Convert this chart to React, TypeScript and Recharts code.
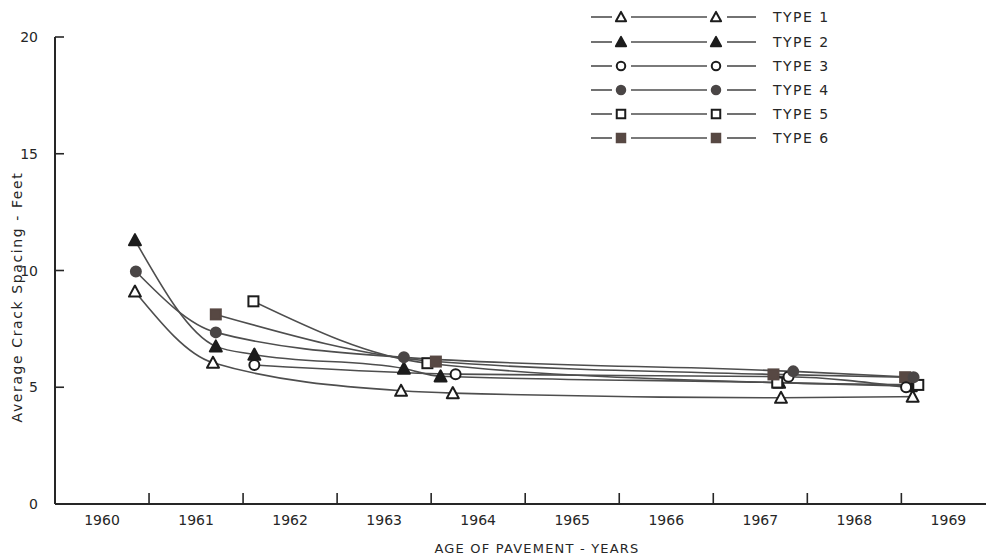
import React from 'react';
import { LineChart, Line, XAxis, YAxis, Label } from 'recharts';

// ---- data (x = calendar year, y = average crack spacing in feet)
const type1Years = [1960.85, 1961.68, 1963.68, 1964.23, 1967.72, 1969.12];
const type1Values = [9.1, 6.05, 4.85, 4.75, 4.55, 4.6];

const type2Years = [1960.85, 1961.71, 1962.12, 1963.71, 1964.1, 1967.7, 1969.1];
const type2Values = [11.3, 6.75, 6.4, 5.8, 5.47, 5.2, 5.05];

const type3Years = [1962.12, 1964.26, 1967.8, 1969.05];
const type3Values = [5.95, 5.56, 5.45, 5.0];

const type4Years = [1960.86, 1961.71, 1963.71, 1967.85, 1969.13];
const type4Values = [9.96, 7.35, 6.28, 5.68, 5.43];

const type5Years = [1962.11, 1963.96, 1967.68, 1969.18];
const type5Values = [8.68, 6.03, 5.2, 5.1];

const type6Years = [1961.71, 1964.05, 1967.64, 1969.04];
const type6Values = [8.12, 6.1, 5.55, 5.43];

const seriesNames = ['TYPE 1', 'TYPE 2', 'TYPE 3', 'TYPE 4', 'TYPE 5', 'TYPE 6'];
const yTicks = [0, 5, 10, 15, 20];
const yearLabels = [1960, 1961, 1962, 1963, 1964, 1965, 1966, 1967, 1968, 1969];
const yearBoundaries = [1961, 1962, 1963, 1964, 1965, 1966, 1967, 1968, 1969];
const yTitle = 'Average Crack Spacing - Feet';
const xTitle = 'AGE OF PAVEMENT - YEARS';

type Shape = 'triangle' | 'circle' | 'square';

const toRows = (xs: number[], ys: number[]) => xs.map((x, i) => ({ x, y: ys[i] }));

const series = [
  { name: seriesNames[0], data: toRows(type1Years, type1Values), shape: 'triangle' as Shape, fill: '#ffffff' },
  { name: seriesNames[1], data: toRows(type2Years, type2Values), shape: 'triangle' as Shape, fill: '#1c1c1c' },
  { name: seriesNames[2], data: toRows(type3Years, type3Values), shape: 'circle' as Shape, fill: '#ffffff' },
  { name: seriesNames[3], data: toRows(type4Years, type4Values), shape: 'circle' as Shape, fill: '#4a4646' },
  { name: seriesNames[4], data: toRows(type5Years, type5Values), shape: 'square' as Shape, fill: '#ffffff' },
  { name: seriesNames[5], data: toRows(type6Years, type6Values), shape: 'square' as Shape, fill: '#574843' },
];

const drawOrder = [1, 4, 5, 2, 3, 0];

const FONT = '"DejaVu Sans", sans-serif';
const INK = '#262626';
const LINE = '#4e4e4e';

function Marker({ cx, cy, shape, fill, size = 1 }: { cx: number; cy: number; shape: Shape; fill: string; size?: number }) {
  const stroke = fill === '#ffffff' ? '#1c1c1c' : fill;
  if (shape === 'triangle') {
    const h = 6 * size;
    return (
      <polygon
        points={`${cx},${cy - h} ${cx - h},${cy + h * 0.85} ${cx + h},${cy + h * 0.85}`}
        fill={fill}
        stroke={stroke}
        strokeWidth={2}
        strokeLinejoin="round"
      />
    );
  }
  if (shape === 'circle') {
    return <circle cx={cx} cy={cy} r={5 * size} fill={fill} stroke={stroke} strokeWidth={2} />;
  }
  const s = 5 * size;
  return <rect x={cx - s} y={cy - s} width={2 * s} height={2 * s} fill={fill} stroke={stroke} strokeWidth={2} />;
}

const XTick = (props: any) => {
  const { x, y, payload } = props;
  const v = payload.value as number;
  if (Number.isInteger(v)) {
    return <line x1={x} x2={x} y1={y} y2={y - 11} stroke={INK} strokeWidth={1.6} />;
  }
  return (
    <text x={x} y={y + 21} textAnchor="middle" fontFamily={FONT} fontSize={14} fill={INK}>
      {Math.floor(v)}
    </text>
  );
};

const YTick = (props: any) => {
  const { x, y, payload } = props;
  return (
    <g>
      {payload.value !== 0 && <line x1={x} x2={x + 9} y1={y} y2={y} stroke={INK} strokeWidth={1.6} />}
      <text x={x - 17} y={y + 5} textAnchor="end" fontFamily={FONT} fontSize={14} fill={INK}>
        {payload.value}
      </text>
    </g>
  );
};

const legendRows = [17, 42, 66, 90, 114, 138];

function LegendOverlay() {
  return (
    <svg width={1000} height={160} style={{ position: 'absolute', left: 0, top: 0, pointerEvents: 'none' }}>
      {series.map((s, i) => {
        const y = legendRows[i];
        return (
          <g key={s.name}>
            <line x1={591} x2={612} y1={y} y2={y} stroke={LINE} strokeWidth={1.6} />
            <Marker cx={621} cy={y} shape={s.shape} fill={s.fill} size={0.85} />
            <line x1={631} x2={707} y1={y} y2={y} stroke={LINE} strokeWidth={1.6} />
            <Marker cx={716} cy={y} shape={s.shape} fill={s.fill} size={0.85} />
            <line x1={727} x2={756} y1={y} y2={y} stroke={LINE} strokeWidth={1.6} />
            <text x={773} y={y + 5} fontFamily={FONT} fontSize={14} letterSpacing={1.5} fill={INK}>
              {s.name}
            </text>
          </g>
        );
      })}
    </svg>
  );
}

export default function App() {
  const xTickValues = [...yearLabels.map((y) => y + 0.5), ...yearBoundaries].sort((a, b) => a - b);
  return (
    <div style={{ position: 'absolute', left: 0, top: 0, width: 1000, height: 558, background: '#ffffff' }}>
      <LineChart width={1000} height={558} margin={{ top: 37, right: 14, left: 0, bottom: 0 }}>
        <XAxis
          dataKey="x"
          type="number"
          domain={[1960, 1969.9]}
          allowDataOverflow
          ticks={xTickValues}
          interval={0}
          height={54}
          tickSize={0}
          tickMargin={0}
          tickLine={false}
          tick={<XTick />}
          axisLine={{ stroke: INK, strokeWidth: 2 }}
        >
          <Label
            content={() => (
              <text x={537} y={553} textAnchor="middle" fontFamily={FONT} fontSize={13} letterSpacing={1.2} fill={INK}>
                {xTitle}
              </text>
            )}
          />
        </XAxis>
        <YAxis
          type="number"
          domain={[0, 20]}
          ticks={yTicks}
          interval={0}
          width={55}
          tickSize={0}
          tickMargin={0}
          tickLine={false}
          tick={<YTick />}
          axisLine={{ stroke: INK, strokeWidth: 2 }}
        >
          <Label
            content={() => (
              <text
                x={22}
                y={297}
                transform="rotate(-90 22 297)"
                textAnchor="middle"
                fontFamily={FONT}
                fontSize={14}
                letterSpacing={1.6}
                fill={INK}
              >
                {yTitle}
              </text>
            )}
          />
        </YAxis>
        {drawOrder.map((idx) => {
          const s = series[idx];
          return (
            <Line
              key={s.name}
              name={s.name}
              data={s.data}
              dataKey="y"
              type="monotone"
              stroke={LINE}
              strokeWidth={1.6}
              isAnimationActive={false}
              activeDot={false}
              dot={(p: any) => (
                <Marker key={`${s.name}-${p.index}`} cx={p.cx} cy={p.cy} shape={s.shape} fill={s.fill} />
              )}
            />
          );
        })}
      </LineChart>
      <LegendOverlay />
    </div>
  );
}
